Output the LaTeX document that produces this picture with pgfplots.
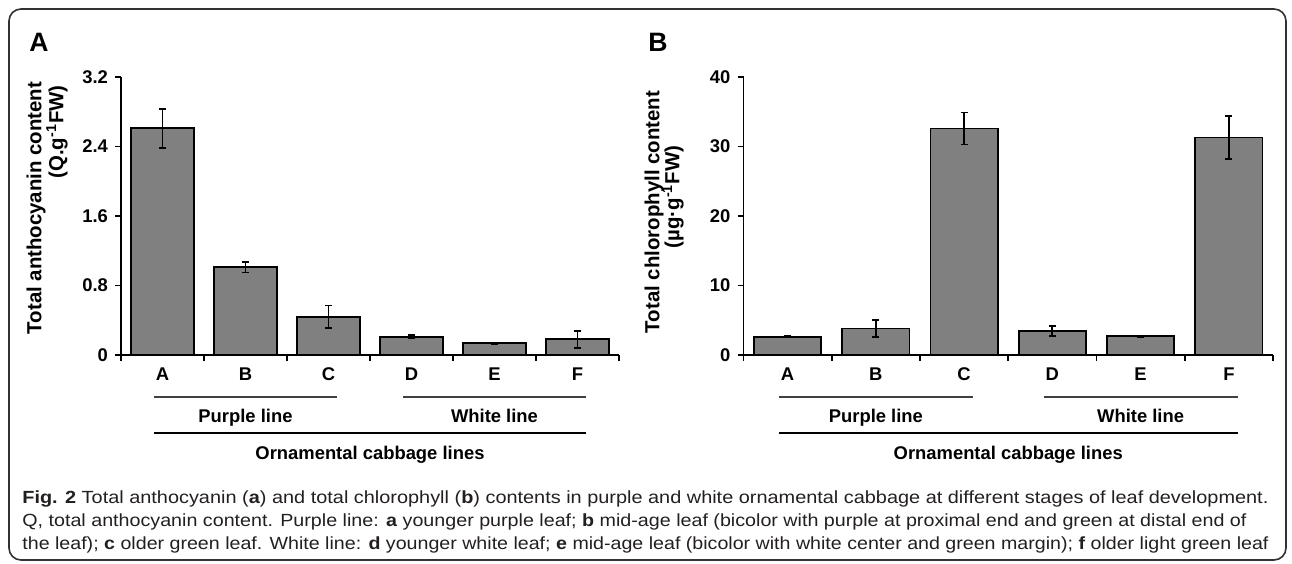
\documentclass[border=0pt]{standalone}
\usepackage{fontspec}
\setmainfont{Liberation Sans}
\usepackage{graphicx}
\usepackage{pgfplots}
\pgfplotsset{compat=1.18}

\definecolor{barfill}{RGB}{128,128,128}
\definecolor{framegray}{RGB}{50,50,50}
\definecolor{captext}{RGB}{35,31,32}

\newcommand{\chartfont}{\fontsize{9.2pt}{11pt}\selectfont\bfseries}
\newcommand{\titlefont}{\fontsize{10.2pt}{12pt}\selectfont\bfseries}
\newcommand{\panelfont}{\fontsize{13.3pt}{15pt}\selectfont\bfseries}
\newcommand{\capfont}{\fontsize{8.8pt}{10pt}\selectfont\color{captext}}

\tikzset{grouprule/.style={draw=black!75, line width=0.6pt}}

\pgfplotsset{
  cabbage/.style={
    scale only axis,
    height=139pt,
    xmin=0, xmax=6,
    ymin=0,
    clip=false,
    axis x line*=bottom,
    axis y line*=left,
    axis line style={-, line width=0.8pt, black},
    xtick={0.5,1.5,...,5.5},
    xticklabels={A,B,C,D,E,F},
    minor xtick={0,1,...,6},
    major x tick style={draw=none},
    minor x tick style={line width=0.8pt, black},
    ytick style={line width=0.8pt, black},
    major tick length=3pt,
    minor tick length=3pt,
    tick align=outside,
    tick label style={font=\chartfont},
    ybar,
    bar width=0.76,
  },
  cabbagebars/.style={
    fill=barfill, draw=black, line width=0.9pt,
    error bars/.cd,
      y dir=both, y explicit,
      error bar style={line width=0.9pt, black},
      error mark options={rotate=90, mark size=1.8pt, line width=0.9pt, black},
  },
}

% group captions below the category labels
\newcommand{\cabbagegroups}{%
  \draw[grouprule] ([yshift=-21pt]axis cs:0.4,0) -- ([yshift=-21pt]axis cs:2.6,0);
  \draw[grouprule] ([yshift=-21pt]axis cs:3.4,0) -- ([yshift=-21pt]axis cs:5.6,0);
  \node[font=\chartfont, anchor=base] at ([yshift=-33.5pt]axis cs:1.5,0) {Purple line};
  \node[font=\chartfont, anchor=base] at ([yshift=-33.5pt]axis cs:4.5,0) {White line};
  \draw[black, line width=0.9pt] ([yshift=-39pt]axis cs:0.4,0) -- ([yshift=-39pt]axis cs:5.6,0);
  \node[font=\chartfont, anchor=base] at ([yshift=-52pt]axis cs:3,0) {Ornamental cabbage lines};
}

\begin{document}
\begin{tikzpicture}
\useasboundingbox (0,0) rectangle (646pt,281.5pt);
\draw[framegray, line width=0.8pt, rounded corners=6pt] (4.5pt,1.5pt) rectangle (643pt,277pt);

% ---- A: anthocyanin ----
\node[font=\panelfont, anchor=base west, inner sep=0] at (14.5pt,255.5pt) {A};
\node[font=\titlefont, rotate=90, inner sep=0] at (18pt,177.5pt) {Total anthocyanin content};
\node[font=\titlefont, rotate=90, anchor=east, inner sep=0] at (28.5pt,239pt) {(Q.g\textsuperscript{-1}FW)};
\begin{axis}[cabbage, at={(60.5pt,104pt)}, anchor=south west,
  width=249pt, ymax=3.2,
  ytick={0,0.8,1.6,2.4,3.2}, yticklabels={0,0.8,1.6,2.4,3.2}]
\addplot[cabbagebars] coordinates {
  (0.5,2.61)  +- (0,0.225)
  (1.5,1.01)  +- (0,0.06)
  (2.5,0.44)  +- (0,0.13)
  (3.5,0.21)  +- (0,0.02)
  (4.5,0.135) +- (0,0.005)
  (5.5,0.18)  +- (0,0.095)
};
\cabbagegroups
\end{axis}

% ---- B: chlorophyll ----
\node[font=\panelfont, anchor=base west, inner sep=0] at (324pt,255.5pt) {B};
\node[font=\titlefont, rotate=90, inner sep=0] at (327pt,175.5pt) {Total chlorophyll content};
\node[font=\titlefont, rotate=90, inner sep=0] at (336.5pt,183pt) {(µg·g\textsuperscript{-1}FW)};
\begin{axis}[cabbage, at={(371.75pt,104pt)}, anchor=south west,
  width=264.75pt, ymax=40,
  ytick={0,10,20,30,40}, yticklabels={0,10,20,30,40}]
\addplot[cabbagebars] coordinates {
  (0.5,2.63) +- (0,0.1)
  (1.5,3.8)  +- (0,1.2)
  (2.5,32.6) +- (0,2.3)
  (3.5,3.45) +- (0,0.72)
  (4.5,2.7)  +- (0,0.1)
  (5.5,31.3) +- (0,3.05)
};
\cabbagegroups
\end{axis}

% ---- caption ----
\node[anchor=base west, inner sep=0, font=\capfont] at (11pt,30pt)
  {\resizebox{623pt}{\height}{\textbf{Fig. 2} Total anthocyanin (\textbf{a}) and total chlorophyll (\textbf{b}) contents in purple and white ornamental cabbage at different stages of leaf development.}};
\node[anchor=base west, inner sep=0, font=\capfont] at (11pt,18.5pt)
  {\resizebox{612pt}{\height}{Q, total anthocyanin content. Purple line: \textbf{a} younger purple leaf; \textbf{b} mid-age leaf (bicolor with purple at proximal end and green at distal end of}};
\node[anchor=base west, inner sep=0, font=\capfont] at (11pt,7pt)
  {\resizebox{623pt}{\height}{the leaf); \textbf{c} older green leaf. White line: \textbf{d} younger white leaf; \textbf{e} mid-age leaf (bicolor with white center and green margin); \textbf{f} older light green leaf}};
\end{tikzpicture}
\end{document}
